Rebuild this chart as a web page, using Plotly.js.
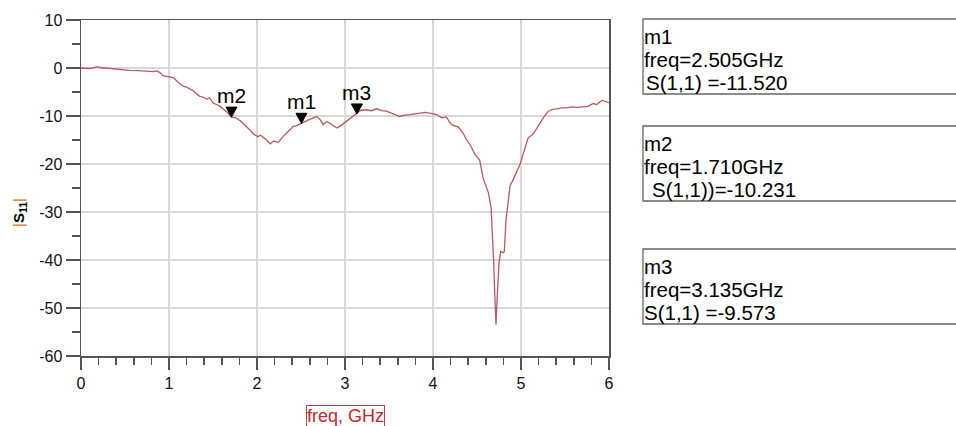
<!DOCTYPE html>
<html>
<head>
<meta charset="utf-8">
<script src="https://cdn.plot.ly/plotly-3.0.1.min.js"></script>
<style>
html,body{margin:0;padding:0;background:#fff;}
#chart{width:956px;height:426px;}
</style>
</head>
<body>
<div id="chart"></div>
<script>
// ---- data ----
const freq = [0, 0.05, 0.1, 0.15, 0.18, 0.22, 0.3, 0.4, 0.48, 0.55, 0.65, 0.75, 0.82, 0.86, 0.9, 0.93, 0.97, 1.02, 1.05, 1.1,
  1.16, 1.2, 1.24, 1.28, 1.32, 1.35, 1.39, 1.43, 1.46, 1.5, 1.54, 1.58, 1.62, 1.66, 1.71, 1.76, 1.81, 1.86, 1.92, 1.96,
  2.01, 2.04, 2.07, 2.11, 2.15, 2.19, 2.24, 2.28, 2.34, 2.38, 2.41, 2.45, 2.505, 2.55, 2.6, 2.64, 2.68, 2.72, 2.75, 2.79,
  2.83, 2.87, 2.91, 2.96, 3.02, 3.07, 3.135, 3.18, 3.24, 3.3, 3.36, 3.42, 3.47, 3.52, 3.57, 3.62, 3.68, 3.74, 3.8, 3.85,
  3.91, 3.96, 4.0, 4.04, 4.1, 4.15, 4.21, 4.25, 4.29, 4.34, 4.38, 4.43, 4.48, 4.53, 4.57, 4.6, 4.63, 4.66, 4.68, 4.69,
  4.70, 4.71, 4.716, 4.72, 4.73, 4.75, 4.77, 4.8, 4.81, 4.83, 4.86, 4.875, 4.91, 4.95, 4.99, 5.04, 5.08, 5.14, 5.2, 5.25,
  5.31, 5.36, 5.41, 5.46, 5.52, 5.58, 5.64, 5.71, 5.76, 5.82, 5.86, 5.92, 5.96, 6.0];
const s11 = [0, 0.0, -0.1, 0.1, 0.3, 0.1, -0.05, -0.2, -0.4, -0.5, -0.55, -0.6, -0.75, -0.6, -1.0, -1.6, -1.7, -1.9, -2.0, -2.9,
  -3.8, -4.0, -4.4, -4.8, -5.5, -5.9, -6.1, -6.5, -6.2, -7.3, -7.6, -8.0, -8.6, -9.2, -10.23, -10.4, -11.0, -11.8, -12.9, -13.8,
  -14.3, -14.0, -14.4, -15.0, -15.8, -15.2, -15.5, -14.6, -13.5, -12.8, -12.2, -12.0, -11.52, -11.0, -10.7, -10.4, -10.1, -10.8, -11.8, -11.2,
  -11.5, -12.1, -12.5, -11.9, -11.1, -10.4, -9.573, -8.8, -8.7, -8.9, -8.5, -8.9, -9.0, -9.3, -9.7, -10.1, -9.8, -9.7, -9.5, -9.4,
  -9.25, -9.4, -9.6, -9.7, -10.4, -10.2, -11.8, -12.1, -12.3, -13.5, -14.9, -16.3, -18.1, -19.2, -23.0, -24.5, -26.0, -29.0, -35.5, -40.6,
  -46.2, -50.5, -53.5, -51.5, -47.5, -40.5, -38.2, -38.5, -38.3, -31.6, -27.0, -24.5, -23.3, -21.8, -20.0, -17.0, -14.6, -13.7, -11.8, -10.5,
  -9.0, -8.6, -8.5, -8.3, -8.3, -8.1, -8.2, -8.1, -8.0, -7.4, -7.6, -6.75, -7.0, -7.2];

const markerNames = ['m1', 'm2', 'm3'];
const markerFreq = [2.505, 1.710, 3.135];
const markerVals = [-11.520, -10.231, -9.573];
const boxLines = [
  ['m1', 'freq=2.505GHz', 'S(1,1) =-11.520'],
  ['m2', 'freq=1.710GHz', 'S(1,1))=-10.231'],
  ['m3', 'freq=3.135GHz', 'S(1,1) =-9.573']
];
const xTickVals = [0, 1, 2, 3, 4, 5, 6];
const yTickVals = [10, 0, -10, -20, -30, -40, -50, -60];

// ---- layout helpers (pixel -> paper) ----
const L = 81, R = 609, T = 20, B = 356;
const px = p => (p - L) / (R - L);
const py = p => (B - p) / (B - T);

const FONT = 'Liberation Sans, Arial, sans-serif';

const shapes = [];
const annotations = [];

// marker triangles and labels
markerNames.forEach((n, i) => {
  shapes.push({
    type: 'path', xref: 'x', yref: 'y',
    xsizemode: 'pixel', ysizemode: 'pixel',
    xanchor: markerFreq[i], yanchor: markerVals[i],
    path: 'M-5.5,10 L5.5,10 L0,0 Z',
    fillcolor: '#000', line: {color: '#000', width: 1}
  });
  annotations.push({
    xref: 'x', yref: 'y', x: markerFreq[i], y: markerVals[i],
    text: n, showarrow: false, xanchor: 'center', yanchor: 'bottom', yshift: 8,
    font: {family: FONT, size: 21, color: '#000'}
  });
});

// marker boxes on the right
const boxTops = [19, 126, 249];
const lineOffsets = [17, 40, 63];
const lineX = [[644, 644, 646], [644, 644, 652], [644, 644, 644]];
boxTops.forEach((top, i) => {
  shapes.push({
    type: 'rect', xref: 'paper', yref: 'paper',
    x0: px(643), x1: px(958), y0: py(top + 75), y1: py(top),
    line: {color: '#666', width: 1.3}, fillcolor: 'rgba(0,0,0,0)'
  });
  boxLines[i].forEach((t, j) => {
    annotations.push({
      xref: 'paper', yref: 'paper', x: px(lineX[i][j]), y: py(top + lineOffsets[j]),
      text: t, showarrow: false, xanchor: 'left', yanchor: 'middle', borderpad: 0, borderwidth: 0,
      font: {family: FONT, size: 20.5, color: '#000'}
    });
  });
});

// y-axis title
annotations.push({
  xref: 'paper', yref: 'paper', x: px(19), y: py(213),
  text: '<span style="color:#d07a2a">|</span><b>S<sub>11</sub></b><span style="color:#d07a2a">|</span>',
  textangle: -90, showarrow: false, xanchor: 'center', yanchor: 'middle',
  font: {family: FONT, size: 15, color: '#000'}
});

// x-axis title with box
annotations.push({
  xref: 'paper', yref: 'paper', x: px(345), y: py(415.5),
  text: 'freq, GHz', showarrow: false, xanchor: 'center', yanchor: 'middle',
  font: {family: FONT, size: 18, color: '#c0282d'},
  bordercolor: '#c04040', borderwidth: 1, borderpad: 0
});

const trace = {
  x: freq, y: s11, type: 'scatter', mode: 'lines',
  line: {color: '#b85a5c', width: 1.3}, hoverinfo: 'skip'
};

const layout = {
  width: 956, height: 426,
  margin: {l: L, r: 956 - R, t: T, b: 426 - B, pad: 0},
  paper_bgcolor: '#fff', plot_bgcolor: '#fff',
  showlegend: false,
  xaxis: {
    range: [0, 6], tickvals: xTickVals, ticktext: xTickVals.map(String),
    ticks: 'outside', ticklen: 12, tickwidth: 1.5, tickcolor: '#555',
    showline: true, linecolor: '#555', linewidth: 1.5, mirror: true,
    showgrid: true, gridcolor: '#d8d8d8', gridwidth: 1.5, zeroline: false,
    tickfont: {family: FONT, size: 16, color: '#111'},
    minor: {dtick: 0.2, ticks: 'outside', ticklen: 7, tickwidth: 1.5, tickcolor: '#555', showgrid: false}
  },
  yaxis: {
    range: [-60, 10], tickvals: yTickVals, ticktext: yTickVals.map(String),
    ticks: 'outside', ticklen: 14, tickwidth: 1.5, tickcolor: '#555',
    showline: true, linecolor: '#555', linewidth: 1.5, mirror: true,
    showgrid: true, gridcolor: '#d8d8d8', gridwidth: 1.5, zeroline: false,
    tickfont: {family: FONT, size: 16, color: '#111'},
    minor: {dtick: 5, ticks: 'outside', ticklen: 8, tickwidth: 1.5, tickcolor: '#555', showgrid: false}
  },
  shapes: shapes,
  annotations: annotations
};

Plotly.newPlot('chart', [trace], layout, {displayModeBar: false, staticPlot: true});
</script>
</body>
</html>
